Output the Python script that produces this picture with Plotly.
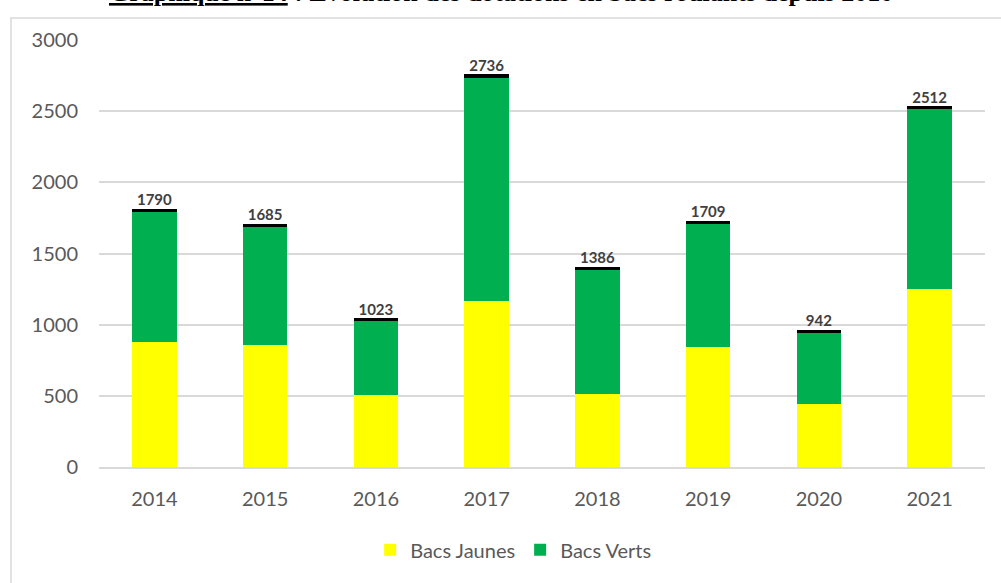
import plotly.graph_objects as go

years = ["2014", "2015", "2016", "2017", "2018", "2019", "2020", "2021"]
bacs_jaunes = [880, 857, 506, 1164, 515, 845, 443, 1248]
bacs_verts = [910, 828, 517, 1572, 871, 864, 499, 1264]
totals = [1790, 1685, 1023, 2736, 1386, 1709, 942, 2512]
title_text = "<u>Graphique n°14</u> : Evolution des dotations en bacs roulants depuis 2010"

CAP = 22  # thickness of the black cap drawn on top of each stacked bar

fig = go.Figure()
fig.add_trace(go.Bar(x=years, y=bacs_jaunes, name="Bacs Jaunes",
                     marker=dict(color="#FFFF00", line=dict(width=0))))
fig.add_trace(go.Bar(x=years, y=bacs_verts, name="Bacs Verts",
                     marker=dict(color="#00B050", line=dict(width=0))))
fig.add_trace(go.Bar(x=years, y=[CAP] * len(years), name="Total", showlegend=False,
                     marker=dict(color="#000000", line=dict(width=0)), hoverinfo="skip"))
fig.add_trace(go.Scatter(x=years, y=[t + CAP for t in totals], mode="text",
                         text=[str(t) for t in totals], textposition="top center",
                         textfont=dict(family="Lato", size=15, color="#404040", weight="bold"),
                         showlegend=False, hoverinfo="skip"))

fig.update_layout(
    barmode="stack",
    bargap=0.6,
    width=1001, height=583,
    margin=dict(l=99, r=16, t=40, b=116),
    paper_bgcolor="white", plot_bgcolor="white",
    font=dict(family="Lato", size=20, color="#595959"),
    legend=dict(orientation="h", x=0.468, xanchor="center", y=-0.194, yanchor="middle",
                font=dict(family="Lato", size=20, color="#595959"), traceorder="normal"),
    showlegend=True,
)
fig.update_yaxes(range=[0, 3000], dtick=500, showgrid=True, gridcolor="#d9d9d9", gridwidth=1.5,
                 zeroline=False, showline=False, ticks="", ticklabelstandoff=20,
                 tickfont=dict(family="Lato", size=20, color="#595959"))
fig.update_xaxes(showgrid=False, showline=True, linecolor="#d9d9d9", linewidth=1.5,
                 ticks="", ticklabelstandoff=13,
                 tickfont=dict(family="Lato", size=20, color="#595959"))

# outer chart frame
fig.add_shape(type="rect", xref="paper", yref="paper",
              x0=(11 - 99) / 886, x1=(1015 - 99) / 886,
              y0=(467 - 600) / 427, y1=(467 - 18) / 427,
              line=dict(color="#d9d9d9", width=1.5), fillcolor="rgba(0,0,0,0)", layer="below")

# cut-off document caption above the chart
fig.add_annotation(text=title_text, xref="paper", yref="paper", x=(107 - 99) / 886, y=1,
                   xanchor="left", yanchor="bottom", yshift=31, showarrow=False,
                   font=dict(family="Liberation Serif", size=26, color="#000000", weight="bold"))

fig.write_html("out.html", config={"displayModeBar": False},
               post_script="document.body.style.margin='0';document.body.style.overflow='hidden';")
